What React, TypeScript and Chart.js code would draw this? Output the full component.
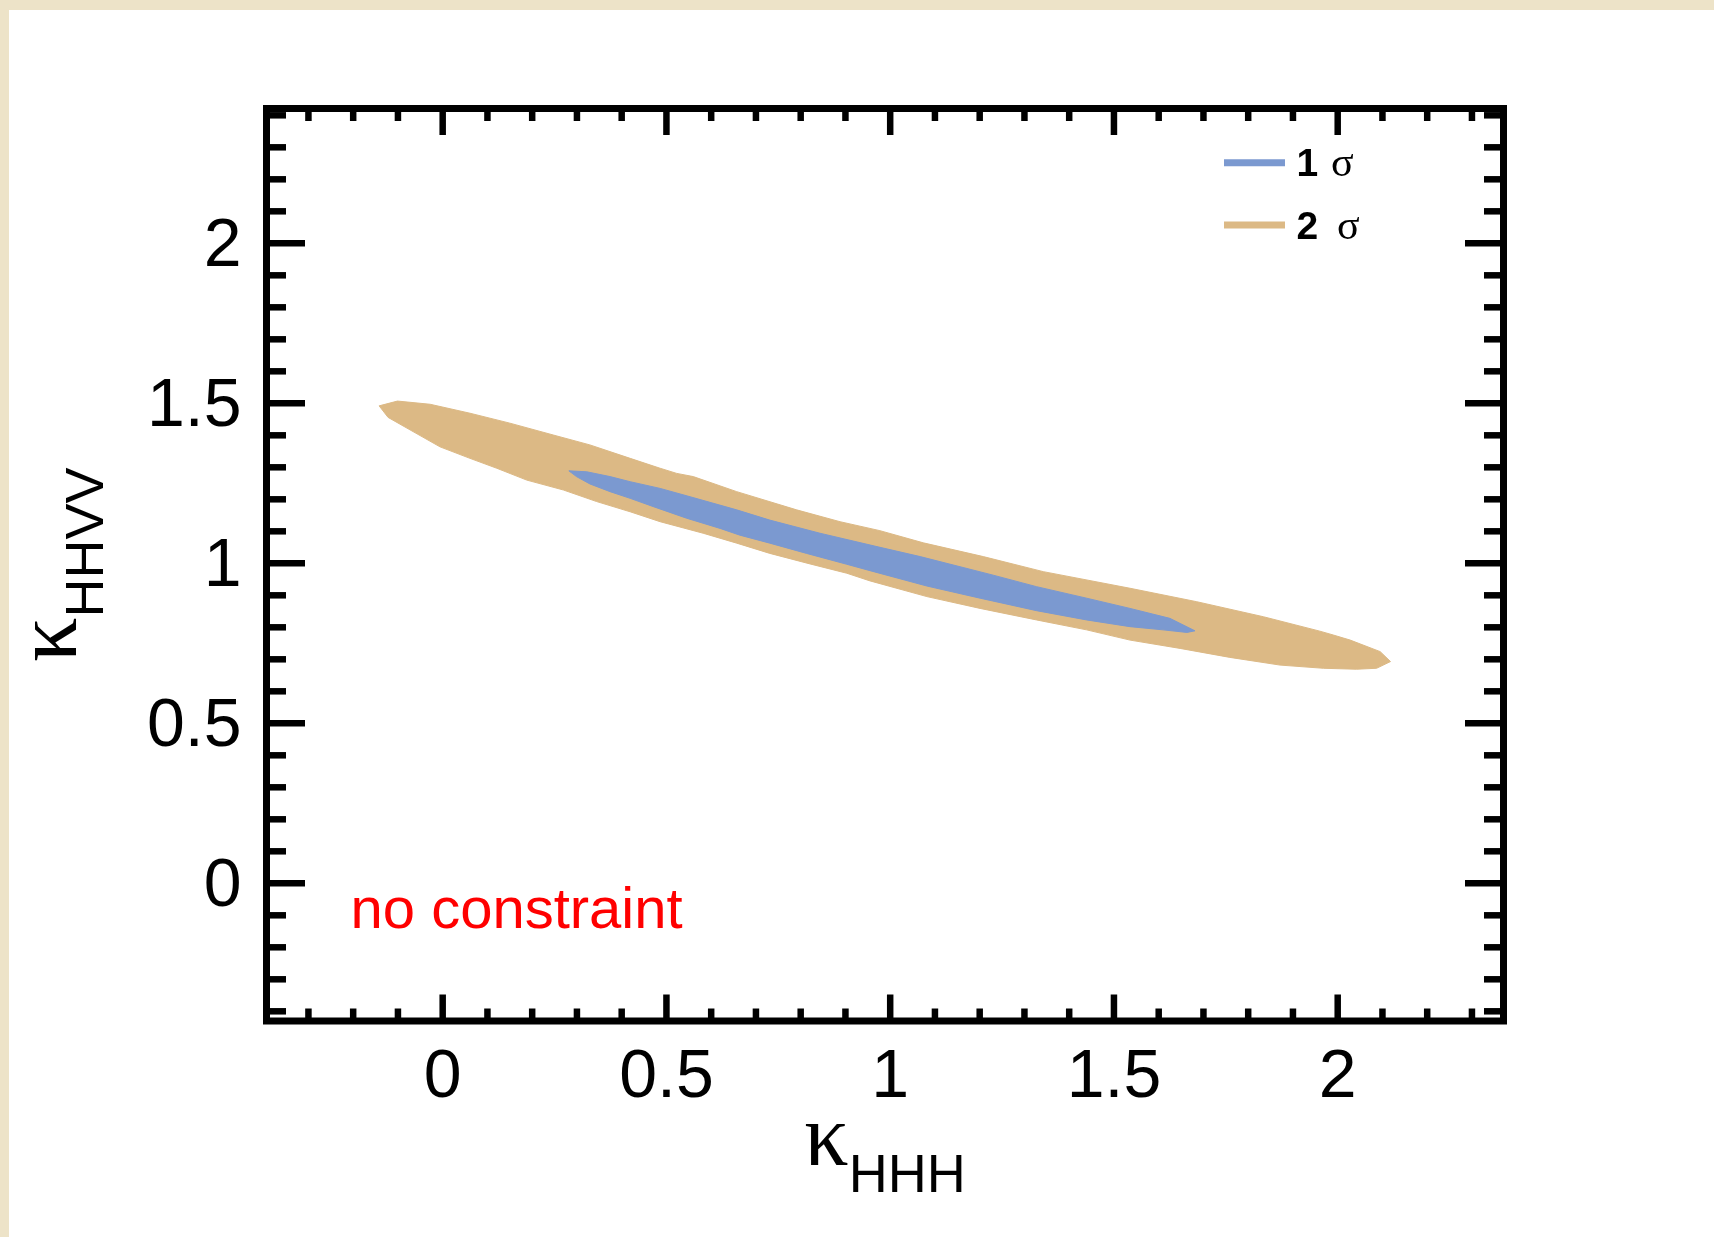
import React, { useEffect, useRef } from "react";
import { Chart, registerables } from "chart.js";

Chart.register(...registerables);

const W = 1714;
const H = 1237;

// Axis ranges (frame edges) and tick values
const xRange = [-0.3937, 2.3705];
const yRange = [-0.4303, 2.4213];
const xMajorTicks = [0, 0.5, 1, 1.5, 2];
const yMajorTicks = [0, 0.5, 1, 1.5, 2];
const xTickLabels = ["0", "0.5", "1", "1.5", "2"];
const yTickLabels = ["0", "0.5", "1", "1.5", "2"];
const xMinorTicks = [-0.3, -0.2, -0.1, 0.1, 0.2, 0.3, 0.4, 0.6, 0.7, 0.8, 0.9, 1.1, 1.2, 1.3, 1.4, 1.6, 1.7, 1.8, 1.9, 2.1, 2.2, 2.3];
const yMinorTicks = [-0.4, -0.3, -0.2, -0.1, 0.1, 0.2, 0.3, 0.4, 0.6, 0.7, 0.8, 0.9, 1.1, 1.2, 1.3, 1.4, 1.6, 1.7, 1.8, 1.9, 2.1, 2.2, 2.3, 2.4];

// 2 sigma contour (kappa_HHH, kappa_HHVV)
const sigma2HHH = [-0.142, -0.101, -0.028, 0.061, 0.150, 0.247, 0.329, 0.419, 0.486, 0.523, 0.560, 0.657, 0.791, 0.888, 0.977, 1.074, 1.208, 1.342, 1.536, 1.685, 1.834, 1.960, 1.990, 2.028, 2.095, 2.118, 2.087, 2.042, 1.968, 1.871, 1.759, 1.648, 1.536, 1.439, 1.327, 1.201, 1.082, 0.955, 0.903, 0.821, 0.731, 0.657, 0.582, 0.486, 0.419, 0.344, 0.270, 0.188, 0.121, 0.061, -0.006, -0.073, -0.122];
const sigma2HHVV = [1.492, 1.507, 1.497, 1.469, 1.438, 1.401, 1.370, 1.328, 1.297, 1.281, 1.271, 1.224, 1.167, 1.130, 1.102, 1.064, 1.021, 0.974, 0.922, 0.880, 0.833, 0.788, 0.776, 0.760, 0.724, 0.693, 0.672, 0.669, 0.672, 0.682, 0.706, 0.734, 0.760, 0.792, 0.823, 0.859, 0.896, 0.945, 0.969, 0.998, 1.031, 1.063, 1.094, 1.130, 1.161, 1.193, 1.229, 1.260, 1.297, 1.328, 1.364, 1.417, 1.456];

// 1 sigma contour
const sigma1HHH = [0.282, 0.322, 0.374, 0.419, 0.486, 0.553, 0.657, 0.731, 0.843, 0.977, 1.067, 1.230, 1.327, 1.439, 1.536, 1.625, 1.681, 1.663, 1.610, 1.536, 1.439, 1.327, 1.201, 1.082, 0.955, 0.903, 0.813, 0.731, 0.664, 0.620, 0.545, 0.471, 0.419, 0.374, 0.329, 0.299];
const sigma1HHVV = [1.289, 1.286, 1.271, 1.255, 1.234, 1.208, 1.167, 1.135, 1.094, 1.050, 1.021, 0.963, 0.927, 0.891, 0.859, 0.828, 0.789, 0.784, 0.792, 0.802, 0.823, 0.852, 0.891, 0.929, 0.977, 0.997, 1.031, 1.063, 1.088, 1.109, 1.141, 1.177, 1.203, 1.224, 1.248, 1.271];

const seriesLabels = ["1", "2"];
const annotationText = "no constraint";

const COLOR_1S = "#7b99d0";
const COLOR_2S = "#dcb985";
const BEIGE = "#ede3c8";
const SANS = '"Liberation Sans", Arial, Helvetica, sans-serif';
const SERIF = '"Liberation Serif", "Times New Roman", serif';

function closed(xs: number[], ys: number[]) {
  const pts = xs.map((x, i) => ({ x, y: ys[i] }));
  pts.push({ ...pts[0] });
  return pts;
}

const decorPlugin = {
  id: "decor",
  beforeDraw(chart: any) {
    const ctx = chart.ctx;
    ctx.save();
    ctx.fillStyle = "#ffffff";
    ctx.fillRect(0, 0, W, H);
    ctx.fillStyle = BEIGE;
    ctx.fillRect(0, 0, W, 10);
    ctx.fillRect(0, 0, 9, H);
    ctx.restore();
  },
  afterDraw(chart: any) {
    const ctx = chart.ctx;
    const a = chart.chartArea;
    const xs = chart.scales.x;
    const ys = chart.scales.y;
    const seg = (x1: number, y1: number, x2: number, y2: number) => {
      ctx.beginPath();
      ctx.moveTo(x1, y1);
      ctx.lineTo(x2, y2);
      ctx.stroke();
    };
    ctx.save();
    ctx.strokeStyle = "#000";
    ctx.lineCap = "butt";
    ctx.lineWidth = 6.5;
    const xTick = (v: number, len: number) => {
      const p = xs.getPixelForValue(v);
      seg(p, a.bottom, p, a.bottom - len);
      seg(p, a.top, p, a.top + len);
    };
    const yTick = (v: number, len: number) => {
      const p = ys.getPixelForValue(v);
      seg(a.left, p, a.left + len, p);
      seg(a.right, p, a.right - len, p);
    };
    xMinorTicks.forEach((v) => xTick(v, 12.5));
    xMajorTicks.forEach((v) => xTick(v, 26.5));
    yMinorTicks.forEach((v) => yTick(v, 19.5));
    yMajorTicks.forEach((v) => yTick(v, 38.5));
    ctx.lineWidth = 7;
    ctx.lineJoin = "miter";
    ctx.strokeRect(a.left, a.top, a.right - a.left, a.bottom - a.top);

    // legend
    const legendItems = [
      { color: COLOR_1S, label: seriesLabels[0], dy: 54.2, gap: 2 },
      { color: COLOR_2S, label: seriesLabels[1], dy: 116.5, gap: 8 },
    ];
    legendItems.forEach((it) => {
      const ly = a.top + it.dy;
      ctx.strokeStyle = it.color;
      ctx.lineWidth = 7;
      seg(a.right - 279.5, ly, a.right - 218.5, ly);
      ctx.fillStyle = "#000";
      ctx.textBaseline = "alphabetic";
      ctx.textAlign = "left";
      ctx.font = `bold 39px ${SANS}`;
      const tx = a.right - 207;
      const base = ly + 13.5;
      ctx.fillText(it.label, tx, base);
      const w = ctx.measureText(it.label + " ").width;
      ctx.font = `42px ${SERIF}`;
      ctx.fillText("σ", tx + w + it.gap, base);
    });

    // annotation
    ctx.fillStyle = "#ff0000";
    ctx.font = `58px ${SANS}`;
    ctx.textAlign = "left";
    ctx.textBaseline = "alphabetic";
    ctx.fillText(annotationText, a.left + 84, 928);

    // axis titles
    ctx.fillStyle = "#000";
    const drawTitle = (sub: string) => {
      ctx.font = `88px ${SERIF}`;
      const kw = ctx.measureText("κ").width;
      ctx.font = `54px ${SANS}`;
      const sw = ctx.measureText(sub).width;
      const start = -(kw + sw) / 2;
      ctx.font = `88px ${SERIF}`;
      ctx.fillText("κ", start, 0);
      ctx.font = `54px ${SANS}`;
      ctx.fillText(sub, start + kw, 27);
    };
    ctx.save();
    ctx.translate((a.left + a.right) / 2, 1165);
    drawTitle("HHH");
    ctx.restore();
    ctx.save();
    ctx.translate(76, (a.top + a.bottom) / 2);
    ctx.rotate(-Math.PI / 2);
    drawTitle("HHVV");
    ctx.restore();

    ctx.restore();
  },
};

export default function App() {
  const ref = useRef<HTMLCanvasElement | null>(null);
  useEffect(() => {
    document.body.style.margin = "0";
    const canvas = ref.current;
    if (!canvas) return;
    const chart = new Chart(canvas, {
      type: "line",
      data: {
        datasets: [
          {
            label: "1 σ",
            data: closed(sigma1HHH, sigma1HHVV),
            borderColor: COLOR_1S,
            backgroundColor: COLOR_1S,
            borderWidth: 1,
            pointRadius: 0,
            tension: 0,
            fill: "shape",
          },
          {
            label: "2 σ",
            data: closed(sigma2HHH, sigma2HHVV),
            borderColor: COLOR_2S,
            backgroundColor: COLOR_2S,
            borderWidth: 1,
            pointRadius: 0,
            tension: 0,
            fill: "shape",
          },
        ],
      },
      options: {
        responsive: false,
        animation: false,
        devicePixelRatio: 1,
        layout: { padding: { left: 0, top: 108.5, right: W - 1503.5, bottom: 0 } },
        plugins: { legend: { display: false }, tooltip: { enabled: false } },
        scales: {
          x: {
            type: "linear",
            min: xRange[0],
            max: xRange[1],
            grid: { display: false, drawTicks: false },
            border: { display: false },
            afterFit: (s: any) => {
              s.height = H - 1021;
            },
            afterBuildTicks: (s: any) => {
              s.ticks = xMajorTicks.map((v) => ({ value: v }));
            },
            ticks: {
              autoSkip: false,
              maxRotation: 0,
              padding: 16,
              color: "#000",
              font: { family: SANS, size: 68 },
              callback: (v: any) => xTickLabels[xMajorTicks.indexOf(Number(v))] ?? "",
            },
          },
          y: {
            type: "linear",
            min: yRange[0],
            max: yRange[1],
            grid: { display: false, drawTicks: false },
            border: { display: false },
            afterFit: (s: any) => {
              s.width = 266.5;
            },
            afterBuildTicks: (s: any) => {
              s.ticks = yMajorTicks.map((v) => ({ value: v }));
            },
            ticks: {
              autoSkip: false,
              padding: 25,
              labelOffset: 4,
              color: "#000",
              font: { family: SANS, size: 68 },
              callback: (v: any) => yTickLabels[yMajorTicks.indexOf(Number(v))] ?? "",
            },
          },
        },
      },
      plugins: [decorPlugin],
    } as any);
    return () => chart.destroy();
  }, []);
  return (
    <div style={{ position: "absolute", left: 0, top: 0, width: W, height: H, overflow: "hidden" }}>
      <canvas ref={ref} width={W} height={H} style={{ display: "block" }} />
    </div>
  );
}
